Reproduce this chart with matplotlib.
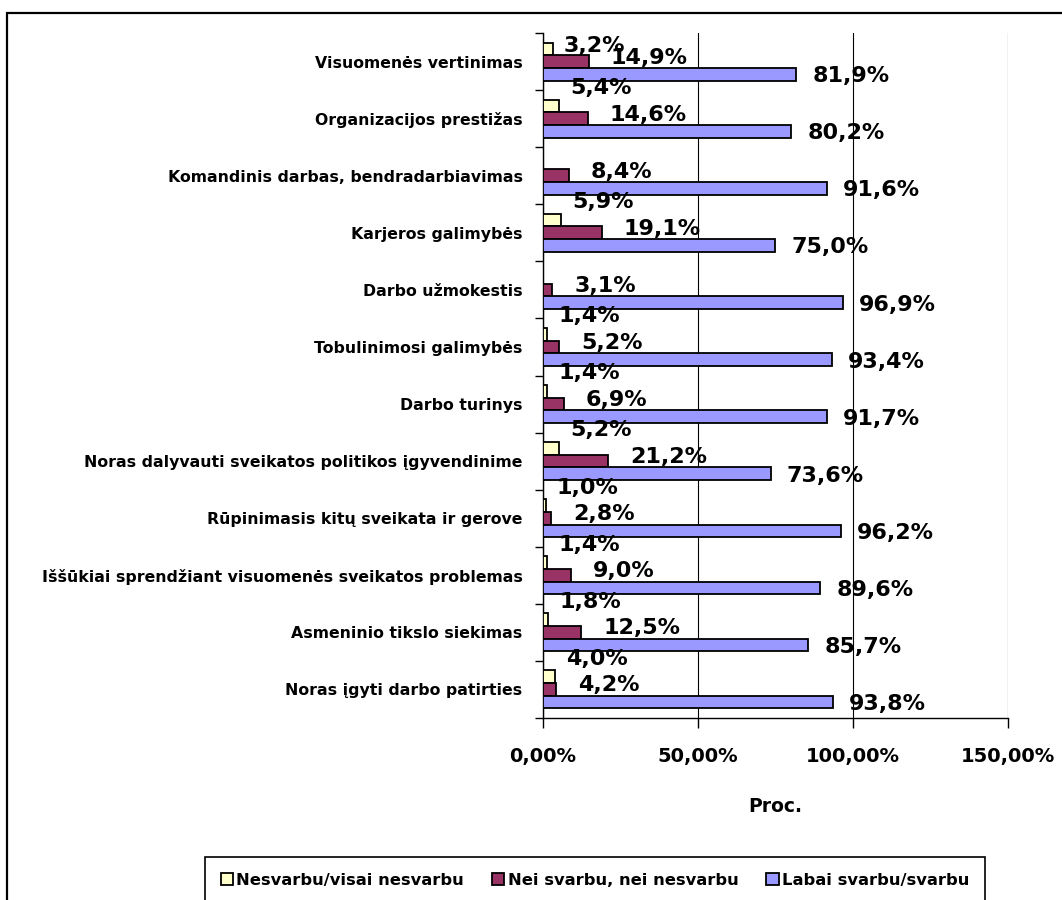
import numpy as np
import matplotlib
matplotlib.use("Agg")
import matplotlib.pyplot as plt
from matplotlib.patches import Rectangle
from matplotlib.ticker import FixedLocator, FuncFormatter

plt.rcParams["font.family"] = ["DejaVu Sans"]
plt.rcParams["font.weight"] = "bold"
plt.rcParams["axes.labelweight"] = "bold"

# Kategorijos (iš viršaus į apačią) ir atsakymų dalys, %
categories = [
    "Visuomenės vertinimas",
    "Organizacijos prestižas",
    "Komandinis darbas, bendradarbiavimas",
    "Karjeros galimybės",
    "Darbo užmokestis",
    "Tobulinimosi galimybės",
    "Darbo turinys",
    "Noras dalyvauti sveikatos politikos įgyvendinime",
    "Rūpinimasis kitų sveikata ir gerove",
    "Iššūkiai sprendžiant visuomenės sveikatos problemas",
    "Asmeninio tikslo siekimas",
    "Noras įgyti darbo patirties",
]
nesvarbu = [3.2, 5.4, 0, 5.9, 0, 1.4, 1.4, 5.2, 1.0, 1.4, 1.8, 4.0]
nei_svarbu = [14.9, 14.6, 8.4, 19.1, 3.1, 5.2, 6.9, 21.2, 2.8, 9.0, 12.5, 4.2]
svarbu = [81.9, 80.2, 91.6, 75.0, 96.9, 93.4, 91.7, 73.6, 96.2, 89.6, 85.7, 93.8]

series_names = ["Nesvarbu/visai nesvarbu", "Nei svarbu, nei nesvarbu",
                "Labai svarbu/svarbu"]
x_ticks = [0, 50, 100, 150]

C_YELLOW = "#FFFFCC"
C_MAROON = "#993366"
C_BLUE = "#9999FF"

W, H = 1062, 900
fig = plt.figure(figsize=(W / 100, H / 100), dpi=100)

# rėmelis aplink visą diagramą (dešinė ir apačia už paveikslo ribų)
fig.add_artist(Rectangle((7 / W, -0.1), 1.2, (H - 13) / H + 0.1,
                         transform=fig.transFigure, fill=False,
                         edgecolor="black", linewidth=1.6))

ax = fig.add_axes([542.7 / W, 1 - 718 / H, (1007.5 - 542.7) / W, 685 / H])

y = np.arange(len(categories))
bar_h = 0.222
series = [
    (nesvarbu, C_YELLOW, -bar_h, (11, 18)),
    (nei_svarbu, C_MAROON, 0.0, (22, 4)),
    (svarbu, C_BLUE, bar_h, (16, -2)),
]

handles = []
labels = []
for (vals, color, off, (dx, dy)), name in zip(series, series_names):
    bars = ax.barh(y + off, vals, height=bar_h, color=color,
                   edgecolor="black", linewidth=1.3, label=name, zorder=3)
    handles.append(bars)
    for rect, v in zip(bars, vals):
        if v == 0:
            rect.set_visible(False)
            continue
        t = ax.annotate(f"{v:.1f}%".replace(".", ","),
                        xy=(v, rect.get_y() + rect.get_height() / 2),
                        xytext=(dx, dy), textcoords="offset pixels",
                        ha="left", va="center", fontsize=16,
                        fontweight="bold", zorder=5, annotation_clip=False)
        labels.append(t)

ax.set_xlim(0, 150)
ax.set_ylim(len(categories) - 0.5, -0.5)

ax.xaxis.set_major_locator(FixedLocator(x_ticks))
ax.xaxis.set_major_formatter(
    FuncFormatter(lambda v, _: f"{v:.2f}%".replace(".", ",")))
ax.grid(axis="x", color="black", linewidth=0.8, zorder=1)
ax.set_axisbelow(True)

ax.set_yticks(y)
ax.set_yticklabels(categories)
ax.yaxis.set_minor_locator(FixedLocator(np.arange(len(categories) + 1) - 0.5))

ax.tick_params(axis="x", which="major", length=7, width=1, pad=14,
               labelsize=14)
ax.tick_params(axis="y", which="major", length=0, pad=14.5, labelsize=11.3)
ax.tick_params(axis="y", which="minor", length=6, width=1)

for side in ("top", "right"):
    ax.spines[side].set_visible(False)
for side in ("left", "bottom"):
    ax.spines[side].set_linewidth(1.0)
    ax.spines[side].set_color("black")

ax.set_xlabel("Proc.", fontsize=13.5, labelpad=22)

leg = fig.legend(handles, series_names, loc="upper left", ncol=3,
                 bbox_to_anchor=(205 / W, 0, 780 / W, 1 - 857 / H),
                 mode="expand", fontsize=11.8, frameon=True, fancybox=False,
                 edgecolor="black", framealpha=1, borderpad=0.95,
                 borderaxespad=0, handlelength=0.75, handleheight=0.75,
                 handletextpad=0.2, columnspacing=2.0)
leg.get_frame().set_linewidth(1.2)

# duomenų žymės neturi išlįsti virš braižymo srities
fig.canvas.draw()
renderer = fig.canvas.get_renderer()
ax_top = ax.get_window_extent(renderer).y1
for t in labels:
    bb = t.get_window_extent(renderer)
    over = bb.y1 - (ax_top - 3)
    if over > 0:
        xo, yo = t.xyann
        t.xyann = (xo, yo - over)

fig.savefig("out.png", dpi=100)
